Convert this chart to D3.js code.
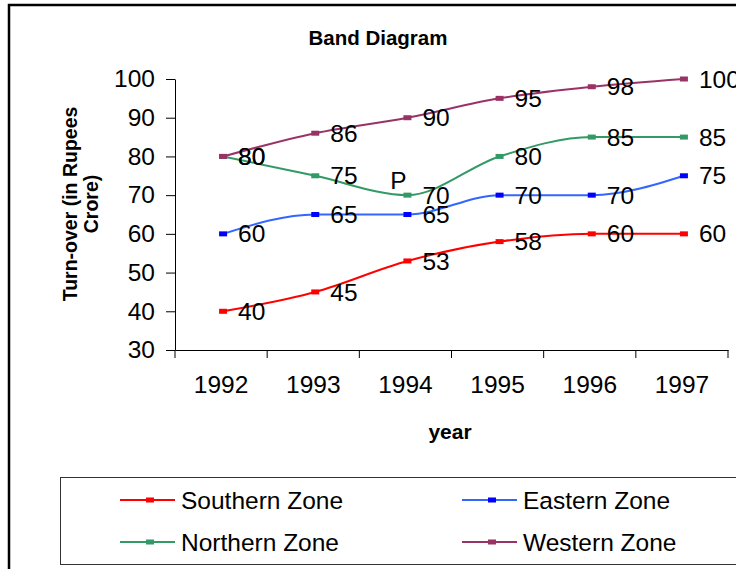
<!DOCTYPE html>
<html>
<head>
<meta charset="utf-8">
<script src="https://cdn.jsdelivr.net/npm/d3@7"></script>
<style>
  body { margin: 0; background: #fff; }
  text { font-family: "Liberation Sans", Arial, sans-serif; fill: #000; }
</style>
</head>
<body>
<div class="chart"></div>
<script>
// Band Diagram - line chart of zone turn-over

var years = ["1992", "1993", "1994", "1995", "1996", "1997"];
var southern = [40, 45, 53, 58, 60, 60];
var eastern = [60, 65, 65, 70, 70, 75];
var northern = [80, 75, 70, 80, 85, 85];
var western = [80, 86, 90, 95, 98, 100];
var yTicks = [30, 40, 50, 60, 70, 80, 90, 100];

var series = [
  { name: "Southern Zone", values: southern, line: "#ff0000", mark: "#ff0000" },
  { name: "Eastern Zone", values: eastern, line: "#3366ff", mark: "#0000ff" },
  { name: "Northern Zone", values: northern, line: "#339966", mark: "#339966" },
  { name: "Western Zone", values: western, line: "#993366", mark: "#993366" }
];

var svgWidth = 736, svgHeight = 569;
var fs = "24.5px";

var svg = d3.select(".chart")
  .append("svg")
  .attr("width", svgWidth)
  .attr("height", svgHeight);

// outer border (cut off at right and bottom)
svg.append("rect")
  .attr("x", 9).attr("y", 5)
  .attr("width", 760).attr("height", 600)
  .attr("fill", "none").attr("stroke", "#000").attr("stroke-width", 2.5);

// title
svg.append("text")
  .attr("x", 378).attr("y", 45)
  .attr("text-anchor", "middle")
  .style("font-weight", "bold").style("font-size", "20.5px")
  .text("Band Diagram");

// scales
var xScale = d3.scaleBand().domain(years).range([175, 728]);
var yScale = d3.scaleLinear().domain([30, 100]).range([350, 79]);
var px = d => xScale(d) + xScale.bandwidth() / 2 + 2;

// y axis
var yAxis = svg.append("g")
  .attr("transform", "translate(175,0)")
  .call(d3.axisLeft(yScale).tickValues(yTicks).tickSize(9).tickSizeOuter(0).tickPadding(11));
yAxis.selectAll("text").style("font-size", fs).attr("font-family", null);

// x axis (labels at band centres, ticks at band edges)
var xAxis = svg.append("g")
  .attr("transform", "translate(0,350)")
  .call(d3.axisBottom(xScale).tickSize(0).tickSizeOuter(0).tickPadding(26));
xAxis.selectAll("text").style("font-size", fs).attr("font-family", null);
xAxis.selectAll(".edge")
  .data(years.map(d => xScale(d)).concat([xScale.range()[1]]))
  .enter().append("line")
  .attr("x1", d => d).attr("x2", d => d)
  .attr("y1", 0).attr("y2", 8)
  .attr("stroke", "#000");
svg.selectAll(".domain").attr("stroke", "#000");

// axis titles
svg.append("text")
  .attr("x", 450).attr("y", 439)
  .attr("text-anchor", "middle")
  .style("font-weight", "bold").style("font-size", "21px")
  .text("year");

var yTitle = svg.append("text")
  .attr("transform", "translate(70,204) rotate(-90)")
  .attr("text-anchor", "middle")
  .style("font-weight", "bold").style("font-size", "19.5px");
yTitle.append("tspan").attr("x", 0).attr("dy", "0.35em").text("Turn-over (in Rupees");
yTitle.append("tspan").attr("x", 0).attr("dy", "1.1em").text("Crore)");

// lines
var line = d3.line()
  .x((d, i) => px(years[i]))
  .y(d => yScale(d))
  .curve(d3.curveMonotoneX);

series.forEach(function(s) {
  var g = svg.append("g");
  g.append("path")
    .attr("d", line(s.values))
    .attr("fill", "none")
    .attr("stroke", s.line)
    .attr("stroke-width", 2);
  g.selectAll("rect")
    .data(s.values)
    .enter().append("rect")
    .attr("x", (d, i) => px(years[i]) - 4)
    .attr("y", d => yScale(d) - 2.5)
    .attr("width", 8).attr("height", 5)
    .attr("fill", s.mark);
  g.selectAll("text")
    .data(s.values)
    .enter().append("text")
    .attr("x", (d, i) => px(years[i]) + 15)
    .attr("y", d => yScale(d))
    .attr("dy", "0.35em")
    .style("font-size", fs)
    .text(d => d);
});

// "P" marker text at 1994 northern low point
svg.append("text")
  .attr("x", px("1994") - 9).attr("y", yScale(70) - 6)
  .attr("text-anchor", "middle")
  .style("font-size", fs)
  .text("P");

// legend
svg.append("rect")
  .attr("x", 60.5).attr("y", 477.5)
  .attr("width", 720).attr("height", 87)
  .attr("fill", "none").attr("stroke", "#333").attr("stroke-width", 1);

var legendPos = [
  { x: 120, y: 500 },
  { x: 462, y: 500 },
  { x: 120, y: 542 },
  { x: 462, y: 542 }
];

series.forEach(function(s, i) {
  var p = legendPos[i];
  var g = svg.append("g").attr("transform", `translate(${p.x},${p.y})`);
  g.append("line")
    .attr("x1", 0).attr("x2", 55)
    .attr("stroke", s.line).attr("stroke-width", 2);
  g.append("rect")
    .attr("x", 26).attr("y", -2.5)
    .attr("width", 8).attr("height", 5)
    .attr("fill", s.mark);
  g.append("text")
    .attr("x", 61).attr("dy", "0.35em")
    .style("font-size", fs)
    .text(s.name);
});
</script>
</body>
</html>
